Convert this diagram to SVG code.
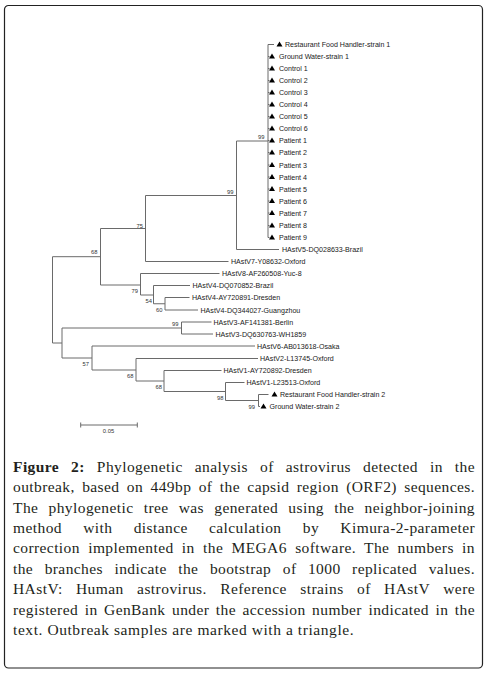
<svg xmlns="http://www.w3.org/2000/svg" xmlns:xlink="http://www.w3.org/1999/xlink" width="488" height="673" viewBox="0 0 488 673">
<style>
.br{stroke:#6a6a6a;stroke-width:1;fill:none}
.lf{font-family:"Liberation Sans",Arial,sans-serif;font-size:7.1px;fill:#1a1a1a}
.bs{font-family:"Liberation Sans",Arial,sans-serif;font-size:5.8px;fill:#333;text-anchor:end}
.tri{fill:#000}
.cap{font-family:"Liberation Serif","Times New Roman",serif;font-size:15.5px;fill:#231f20;letter-spacing:0.4px}
.frame{fill:#fff;stroke:#222;stroke-width:1.2}
</style>
<defs>
<path id="tri" d="M0,-3 L3,2 L-3,2 Z"/>
</defs>
<rect class="frame" x="4.5" y="5.5" width="478" height="662.5" rx="4"/>
<g id="connectors" class="br">
<path d="M268,44.5 V237.5 M268,44.5 H274 M268,56.5 H269.5 M268,68.5 H269.5 M268,80.5 H269.5 M268,92.5 H269.5 M268,104.5 H269.5 M268,116.5 H269.5 M268,128.5 H269.5 M268,140.5 H269.5 M268,152.5 H269.5 M268,165 H269.5 M268,177 H269.5 M268,189 H269.5 M268,201 H269.5 M268,213 H269.5 M268,225.5 H269.5 M268,237.5 H269.5"/>
<path d="M236.5,141 H268 M236.5,141 V249.5 H279"/>
<path d="M145.5,195.5 H236.5 M145.5,195.5 V261.5 H228.5"/>
<path d="M100.5,228.5 H145.5 M100.5,228.5 V285"/>
<path d="M140.5,273.5 V295 M140.5,273.5 H219.5 M140.5,295 H153.5"/>
<path d="M153.5,285.5 V303.75 M153.5,285.5 H190 M153.5,303.75 H165"/>
<path d="M165,297.5 V310 M165,297.5 H189.5 M165,310 H198"/>
<path d="M52.5,256.7 V343 M52.5,256.7 H100.5 M52.5,343 H62 M100.5,285 H140.5"/>
<path d="M62,328 V358 M62,328 H181.5 M62,358 H92"/>
<path d="M181.5,322 V334 M181.5,322 H211.5 M181.5,334 H213"/>
<path d="M92,346 V370 M92,346 H255 M92,370 H136"/>
<path d="M136,358.5 V381 M136,358.5 H258 M136,381 H164"/>
<path d="M164,370.5 V391.5 M164,370.5 H221.5 M164,391.5 H225.5"/>
<path d="M225.5,382.5 V400.5 M225.5,382.5 H244.5 M225.5,400.5 H258.5"/>
<path d="M258.5,394.5 V406.5 M258.5,394.5 H268.5 M258.5,406.5 H260"/>
</g>
<g id="internal-nodes">
<g id="node-outbreak-clade"><text class="bs" x="264.5" y="138.5">99</text></g>
<g id="node-hastv5-clade"><text class="bs" x="233.5" y="193.5">99</text></g>
<g id="node-hastv7-clade"><text class="bs" x="143" y="227.5">75</text></g>
<g id="node-upper-68"><text class="bs" x="97.5" y="254">68</text></g>
<g id="node-hastv8-clade"><text class="bs" x="138" y="292.5">79</text></g>
<g id="node-hastv4-54"><text class="bs" x="152" y="302.5">54</text></g>
<g id="node-hastv4-60"><text class="bs" x="162.5" y="311.7">60</text></g>
<g id="node-hastv3"><text class="bs" x="178.5" y="326">99</text></g>
<g id="node-57"><text class="bs" x="89" y="365.7">57</text></g>
<g id="node-lower-68a"><text class="bs" x="133.5" y="378">68</text></g>
<g id="node-lower-68b"><text class="bs" x="162" y="389.3">68</text></g>
<g id="node-hastv1-98"><text class="bs" x="223.5" y="399.5">98</text></g>
<g id="node-strain2-99"><text class="bs" x="255" y="408.7">99</text></g>
</g>
<g id="leaves">
<g id="leaf-rfh1"><use href="#tri" class="tri" x="279.5" y="44.5"/><text class="lf" x="285" y="47">Restaurant Food Handler-strain 1</text></g>
<g id="leaf-gw1"><use href="#tri" class="tri" x="272" y="56.5"/><text class="lf" x="279" y="59">Ground Water-strain 1</text></g>
<g id="leaf-c1"><use href="#tri" class="tri" x="272" y="68.5"/><text class="lf" x="279" y="71">Control 1</text></g>
<g id="leaf-c2"><use href="#tri" class="tri" x="272" y="80.5"/><text class="lf" x="279" y="83">Control 2</text></g>
<g id="leaf-c3"><use href="#tri" class="tri" x="272" y="92.5"/><text class="lf" x="279" y="95">Control 3</text></g>
<g id="leaf-c4"><use href="#tri" class="tri" x="272" y="104.5"/><text class="lf" x="279" y="107">Control 4</text></g>
<g id="leaf-c5"><use href="#tri" class="tri" x="272" y="116.5"/><text class="lf" x="279" y="119">Control 5</text></g>
<g id="leaf-c6"><use href="#tri" class="tri" x="272" y="128.5"/><text class="lf" x="279" y="131">Control 6</text></g>
<g id="leaf-p1"><use href="#tri" class="tri" x="272" y="140.5"/><text class="lf" x="279" y="143">Patient 1</text></g>
<g id="leaf-p2"><use href="#tri" class="tri" x="272" y="152.5"/><text class="lf" x="279" y="155">Patient 2</text></g>
<g id="leaf-p3"><use href="#tri" class="tri" x="272" y="165"/><text class="lf" x="279" y="167.5">Patient 3</text></g>
<g id="leaf-p4"><use href="#tri" class="tri" x="272" y="177"/><text class="lf" x="279" y="179.5">Patient 4</text></g>
<g id="leaf-p5"><use href="#tri" class="tri" x="272" y="189"/><text class="lf" x="279" y="191.5">Patient 5</text></g>
<g id="leaf-p6"><use href="#tri" class="tri" x="272" y="201"/><text class="lf" x="279" y="203.5">Patient 6</text></g>
<g id="leaf-p7"><use href="#tri" class="tri" x="272" y="213"/><text class="lf" x="279" y="215.5">Patient 7</text></g>
<g id="leaf-p8"><use href="#tri" class="tri" x="272" y="225.5"/><text class="lf" x="279" y="228">Patient 8</text></g>
<g id="leaf-p9"><use href="#tri" class="tri" x="272" y="237.5"/><text class="lf" x="279" y="240">Patient 9</text></g>
<g id="leaf-hastv5"><text class="lf" x="282" y="252">HAstV5-DQ028633-Brazil</text></g>
<g id="leaf-hastv7"><text class="lf" x="231" y="264">HAstV7-Y08632-Oxford</text></g>
<g id="leaf-hastv8"><text class="lf" x="222" y="276">HAstV8-AF260508-Yuc-8</text></g>
<g id="leaf-hastv4-brazil"><text class="lf" x="192.5" y="288">HAstV4-DQ070852-Brazil</text></g>
<g id="leaf-hastv4-dresden"><text class="lf" x="192" y="300">HAstV4-AY720891-Dresden</text></g>
<g id="leaf-hastv4-guangzhou"><text class="lf" x="200.5" y="312.5">HAstV4-DQ344027-Guangzhou</text></g>
<g id="leaf-hastv3-berlin"><text class="lf" x="213.5" y="324.5">HAstV3-AF141381-Berlin</text></g>
<g id="leaf-hastv3-wh"><text class="lf" x="215.5" y="336.5">HAstV3-DQ630763-WH1859</text></g>
<g id="leaf-hastv6"><text class="lf" x="257" y="348.5">HAstV6-AB013618-Osaka</text></g>
<g id="leaf-hastv2"><text class="lf" x="260" y="361">HAstV2-L13745-Oxford</text></g>
<g id="leaf-hastv1-dresden"><text class="lf" x="223.5" y="373">HAstV1-AY720892-Dresden</text></g>
<g id="leaf-hastv1-oxford"><text class="lf" x="246.5" y="385">HAstV1-L23513-Oxford</text></g>
<g id="leaf-rfh2"><use href="#tri" class="tri" x="274.5" y="394.5"/><text class="lf" x="280" y="397">Restaurant Food Handler-strain 2</text></g>
<g id="leaf-gw2"><use href="#tri" class="tri" x="263.5" y="406.5"/><text class="lf" x="269.5" y="409">Ground Water-strain 2</text></g>
</g>
<g id="scale-bar">
<path class="br" d="M80.7,425 H137.3 M80.7,422.5 V427.5 M137.3,422.5 V427.5"/>
<text class="bs" style="text-anchor:middle" x="108.5" y="432.7">0.05</text>
</g>
<g id="caption" class="cap">
<text x="13" y="471.8" word-spacing="7.7" textLength="462" lengthAdjust="spacing"><tspan font-weight="bold">Figure 2:</tspan> Phylogenetic analysis of astrovirus detected in the</text>
<text x="13" y="492.2" word-spacing="3.1" textLength="462" lengthAdjust="spacing">outbreak, based on 449bp of the capsid region (ORF2) sequences.</text>
<text x="13" y="512.6" word-spacing="5.9" textLength="462" lengthAdjust="spacing">The phylogenetic tree was generated using the neighbor-joining</text>
<text x="13" y="533" word-spacing="17" textLength="462" lengthAdjust="spacing">method with distance calculation by Kimura-2-parameter</text>
<text x="13" y="553.4" word-spacing="4" textLength="462" lengthAdjust="spacing">correction implemented in the MEGA6 software. The numbers in</text>
<text x="13" y="573.8" word-spacing="7.25" textLength="462" lengthAdjust="spacing">the branches indicate the bootstrap of 1000 replicated values.</text>
<text x="13" y="594.2" word-spacing="9" textLength="462" lengthAdjust="spacing">HAstV: Human astrovirus. Reference strains of HAstV were</text>
<text x="13" y="614.6" word-spacing="2.3" textLength="462" lengthAdjust="spacing">registered in GenBank under the accession number indicated in the</text>
<text x="13" y="635" textLength="341" lengthAdjust="spacing">text. Outbreak samples are marked with a triangle.</text>
</g>
</svg>
